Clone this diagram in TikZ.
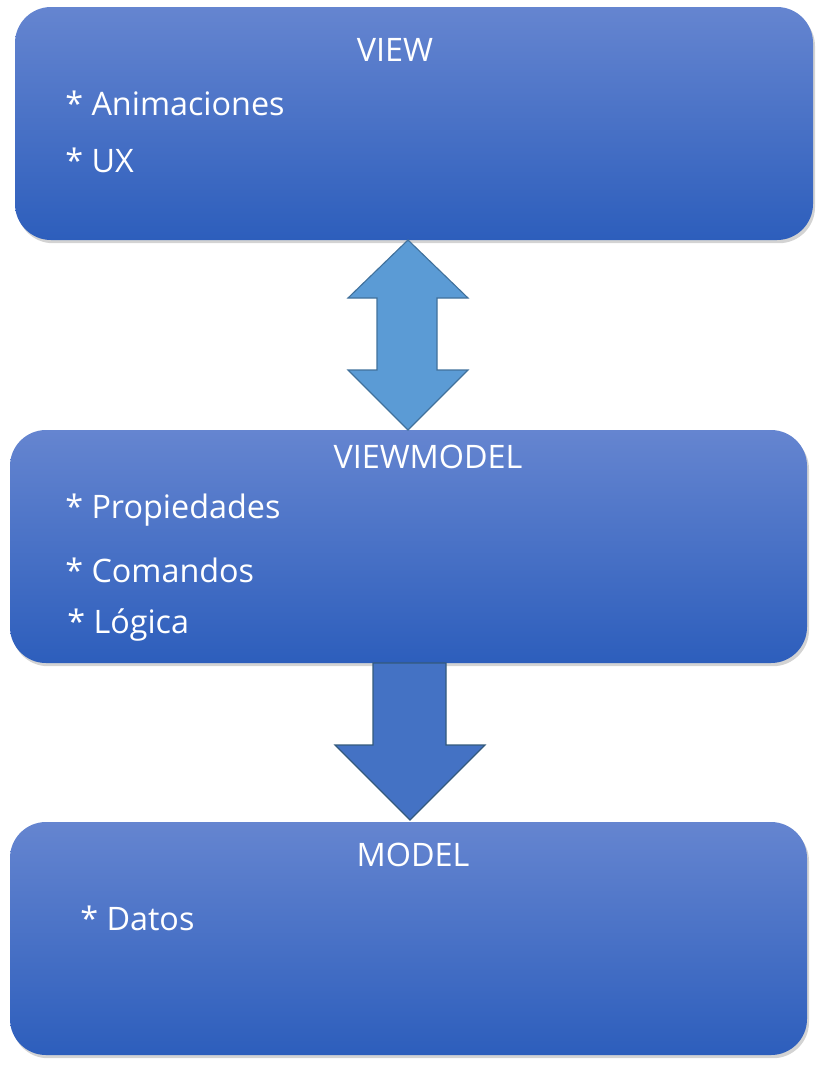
\documentclass[tikz,border=0pt]{standalone}
\usepackage{fontspec}
\setmainfont{Open Sans}
\usetikzlibrary{shadows}
\definecolor{boxtop}{HTML}{6585D0}
\definecolor{boxbot}{HTML}{2D5EBC}
\definecolor{lightarrow}{HTML}{5B9BD5}
\definecolor{darkarrow}{HTML}{4472C4}
\definecolor{arrowedge}{HTML}{41719C}
\begin{document}
\begin{tikzpicture}[x=0.025cm,y=-0.025cm]

\tikzstyle{layer}=[rounded corners=0.9cm, top color=boxtop, bottom color=boxbot, draw=none,
  drop shadow={shadow xshift=0.05cm, shadow yshift=-0.08cm, opacity=0.35}];
\tikzstyle{title}=[text=white, font=\fontsize{23}{26}\selectfont, anchor=center, inner sep=0pt];
\tikzstyle{item}=[text=white, font=\fontsize{23}{26}\selectfont, anchor=west, inner sep=0pt];

\useasboundingbox (0,0) rectangle (823,1067);

\path[layer] (15,7) rectangle (813,240);
\path[layer] (10,430) rectangle (807,663);
\path[layer] (10,822) rectangle (807,1055);

\node[title] (view) at (395,50) {VIEW};
\node[item] (anim) at (65,103) {* Animaciones};
\node[item] (ux) at (65,160) {* UX};

\node[title] (vm) at (428,457) {VIEWMODEL};
\node[item] (prop) at (65,510) {* Propiedades};
\node[item] (cmd) at (65,570) {* Comandos};
\node[item] (logic) at (67,625) {* Lógica};

\node[title] (model) at (413,855) {MODEL};
\node[item] (data) at (80,918) {* Datos};

% double arrow view <-> viewmodel
\draw[fill=lightarrow, draw=arrowedge, line width=0.8pt]
  (408,240) -- (468,298) -- (437,298) -- (437,370) -- (468,370) -- (408,430)
  -- (348,370) -- (377,370) -- (377,298) -- (348,298) -- cycle;

% arrow viewmodel -> model
\draw[fill=darkarrow, draw=arrowedge!80!black, line width=0.8pt]
  (373,663) -- (446,663) -- (446,745) -- (485,745) -- (410,820)
  -- (335,745) -- (373,745) -- cycle;
\end{tikzpicture}
\end{document}
